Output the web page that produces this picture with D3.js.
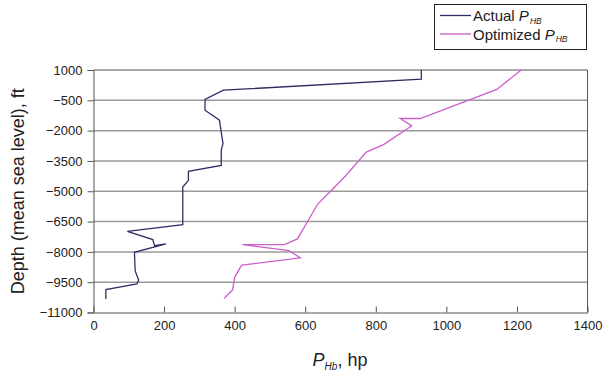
<!DOCTYPE html>
<html>
<head>
<meta charset="utf-8">
<script src="https://cdn.jsdelivr.net/npm/d3@7"></script>
<style>
  body { margin: 0; background: #fff; }
  text { font-family: "Liberation Sans", Arial, sans-serif; }
</style>
</head>
<body>
<svg width="606" height="374"></svg>
<script>
// depth (ft) and power (hp)
const actualDepth = [1000, 550, 0, -460, -990, -1480, -2310, -2640, -2970, -3720, -4010, -4460, -4790, -6650, -6990, -7390, -7690, -7610, -8020, -8930, -9400, -9590, -9870, -10330];
const actualPower = [929, 929, 368, 316, 316, 357, 364, 367, 362, 362, 269, 269, 253, 253, 96, 168, 173, 205, 116, 118, 128, 123, 35, 35];

const optDepth = [1000, 40, -1400, -1400, -1765, -2690, -3060, -4210, -4960, -5620, -7360, -7640, -7640, -7940, -8300, -8650, -8770, -9260, -9890, -10300];
const optPower = [1212, 1143, 926, 869, 902, 822, 773, 716, 674, 636, 578, 541, 422, 555, 586, 421, 416, 400, 394, 370];

const yTicks = [1000, -500, -2000, -3500, -5000, -6500, -8000, -9500, -11000];
const xTicks = [0, 200, 400, 600, 800, 1000, 1200, 1400];

const svg = d3.select("svg");
const plotL = 93.5, plotR = 587.5, plotT = 70, plotB = 312.5;

const x = d3.scaleLinear().domain([0, 1400]).range([plotL, plotR]);
const y = d3.scaleLinear().domain([-11000, 1000]).range([plotB, plotT]);

// gridlines
svg.append("g")
    .selectAll("line")
    .data(yTicks.slice(1, -1))
    .enter()
    .append("line")
    .attr("x1", plotL).attr("x2", plotR)
    .attr("y1", d => y(d)).attr("y2", d => y(d))
    .attr("stroke", "#9a9a9a")
    .attr("stroke-width", 1.5);

// top and right border of the plot
svg.append("path")
    .attr("d", `M${plotL},${plotT}H${plotR}V${plotB}`)
    .attr("fill", "none")
    .attr("stroke", "#555")
    .attr("stroke-width", 1);

// y axis
const yAxis = svg.append("g")
    .attr("transform", `translate(${plotL},0)`)
    .call(d3.axisLeft(y).tickValues(yTicks).tickSize(6).tickPadding(5).tickFormat(d3.format("d")));
yAxis.select(".domain").attr("stroke", "#555");
yAxis.selectAll(".tick line").attr("stroke", "#555");
yAxis.selectAll("text").attr("font-size", 13).attr("fill", "#222");

// x axis (ticks point inward)
const xAxis = svg.append("g")
    .attr("transform", `translate(0,${plotB})`)
    .call(d3.axisBottom(x).tickValues(xTicks).tickSizeInner(-6).tickSizeOuter(0).tickPadding(6).tickFormat(d3.format("d")));
xAxis.select(".domain").attr("stroke", "#555");
xAxis.selectAll(".tick line").attr("stroke", "#555");
xAxis.selectAll("text").attr("font-size", 13).attr("fill", "#222").attr("dy", "0.9em");

// lines
const line = d3.line().x(d => x(d[0])).y(d => y(d[1]));

svg.append("path")
    .datum(actualPower.map((p, i) => [p, actualDepth[i]]))
    .attr("d", line)
    .attr("fill", "none")
    .attr("stroke", "#2e2e66")
    .attr("stroke-width", 1.3);

svg.append("path")
    .datum(optPower.map((p, i) => [p, optDepth[i]]))
    .attr("d", line)
    .attr("fill", "none")
    .attr("stroke", "#cc5fcc")
    .attr("stroke-width", 1.3);

// axis titles
svg.append("text")
    .attr("transform", `translate(24,${(plotT + plotB) / 2}) rotate(-90)`)
    .attr("text-anchor", "middle")
    .attr("font-size", 18)
    .attr("fill", "#222")
    .text("Depth (mean sea level), ft");

const xt = svg.append("text")
    .attr("x", 340)
    .attr("y", 366)
    .attr("text-anchor", "middle")
    .attr("font-size", 18)
    .attr("fill", "#222");
xt.append("tspan").attr("font-style", "italic").text("P");
xt.append("tspan").attr("font-style", "italic").attr("font-size", 10).attr("dy", 4).text("Hb");
xt.append("tspan").attr("dy", -4).text(", hp");

// legend
const legend = svg.append("g");
legend.append("rect")
    .attr("x", 434.5).attr("y", 4.5)
    .attr("width", 152).attr("height", 45)
    .attr("fill", "#fff")
    .attr("stroke", "#222");

const legendItems = [
    { name: "Actual ", color: "#2e2e66", ly: 15.5 },
    { name: "Optimized ", color: "#cc5fcc", ly: 34 }
];
legendItems.forEach(it => {
    legend.append("line")
        .attr("x1", 440).attr("x2", 471)
        .attr("y1", it.ly).attr("y2", it.ly)
        .attr("stroke", it.color)
        .attr("stroke-width", 1.3);
    const t = legend.append("text")
        .attr("x", 473)
        .attr("y", it.ly + 5.5)
        .attr("font-size", 15)
        .attr("fill", "#222");
    t.append("tspan").text(it.name);
    t.append("tspan").attr("font-style", "italic").text("P");
    t.append("tspan").attr("font-style", "italic").attr("font-size", 8.5).attr("dx", 1).attr("dy", 2.5).text("HB");
});
</script>
</body>
</html>
